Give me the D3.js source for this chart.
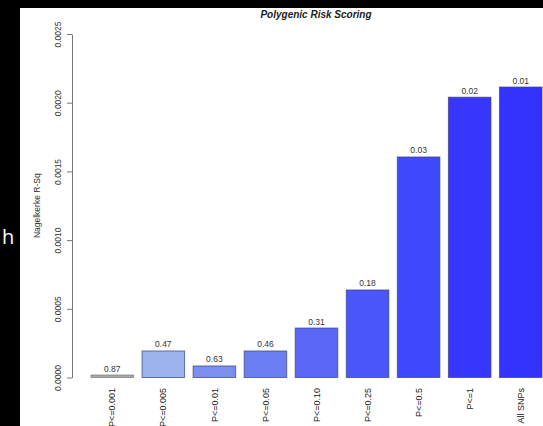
<!DOCTYPE html>
<html>
<head>
<meta charset="utf-8">
<script src="https://cdn.jsdelivr.net/npm/d3@7"></script>
<style>
  html, body { margin: 0; padding: 0; background: #000; overflow: hidden; }
  svg { display: block; }
</style>
</head>
<body>
<svg id="chart" width="543" height="426"></svg>
<script>
// P-value thresholds used to build each score
const thresholds = ["P<=0.001", "P<=0.005", "P<=0.01", "P<=0.05", "P<=0.10", "P<=0.25", "P<=0.5", "P<=1", "All SNPs"];
// Nagelkerke R-squared explained by each score
const r2Values = [0.000018, 0.000193, 0.000084, 0.000193, 0.00036, 0.000637, 0.001605, 0.00204, 0.002114];
// P-value of each score's association, printed above its bar
const pLabels = ["0.87", "0.47", "0.63", "0.46", "0.31", "0.18", "0.03", "0.02", "0.01"];
// Bar fills, darker blue for stronger association
const barColors = ["#a9a9b0", "#9bb4ee", "#7c8ef0", "#6b7ef2", "#5a67f6", "#4b56fa", "#4048fb", "#3636fd", "#3333fd"];
const yTicks = [0, 0.0005, 0.001, 0.0015, 0.002, 0.0025];

const svg = d3.select("#chart");
const font = "'Liberation Sans', Arial, Helvetica, sans-serif";

// white drawing panel on black surround
svg.append("rect").attr("x", 20).attr("y", 8).attr("width", 523).attr("height", 418).attr("fill", "#fff");

// stray caption fragment at the left edge
svg.append("text").attr("x", 2).attr("y", 244)
  .attr("fill", "#fff").attr("font-family", "'Open Sans', sans-serif").attr("font-size", 20)
  .text("h");

const x = d3.scaleBand().domain(thresholds).range([91, 542]).paddingInner(0.2 / 1.2).paddingOuter(0);
const y = d3.scaleLinear().domain([0, 0.0025]).range([377.5, 34]);

// title
svg.append("text")
  .attr("x", 316).attr("y", 18)
  .attr("text-anchor", "middle")
  .attr("font-family", font).attr("font-size", 10).attr("font-weight", "bold").attr("font-style", "italic")
  .attr("fill", "#222")
  .text("Polygenic Risk Scoring");

// y axis
const yAxis = d3.axisLeft(y).tickValues(yTicks).tickFormat(d3.format(".4f")).tickSize(5).tickSizeOuter(0);
const gy = svg.append("g").attr("transform", "translate(72,0)").call(yAxis);
gy.select(".domain").attr("stroke", "#777");
gy.selectAll(".tick line").attr("stroke", "#777");
gy.selectAll(".tick text")
  .attr("font-family", font).attr("font-size", 8.5).attr("fill", "#333")
  .attr("text-anchor", "middle")
  .attr("x", 0).attr("y", 0).attr("dy", "0.35em")
  .attr("transform", "translate(-14,0) rotate(-90)");

// y axis title
svg.append("text")
  .attr("transform", `translate(37,${(y(0) + y(0.0025)) / 2}) rotate(-90)`)
  .attr("text-anchor", "middle").attr("dy", "0.35em")
  .attr("font-family", font).attr("font-size", 8.5).attr("fill", "#333")
  .text("Nagelkerke R-Sq");

// bars
svg.append("g").selectAll("rect")
  .data(thresholds)
  .join("rect")
  .attr("x", d => x(d))
  .attr("width", x.bandwidth())
  .attr("y", (d, i) => y(r2Values[i]))
  .attr("height", (d, i) => Math.max(1.5, y(0) - y(r2Values[i])))
  .attr("fill", (d, i) => barColors[i])
  .attr("stroke", (d, i) => i === 0 ? "#777" : "#3a3f7a")
  .attr("stroke-opacity", 0.7)
  .attr("stroke-width", 1);

// p-value labels above the bars
svg.append("g").selectAll("text")
  .data(thresholds)
  .join("text")
  .attr("x", d => x(d) + x.bandwidth() / 2)
  .attr("y", (d, i) => y(r2Values[i]) - 3.5)
  .attr("text-anchor", "middle")
  .attr("font-family", font).attr("font-size", 8.5).attr("fill", "#333")
  .text((d, i) => pLabels[i]);

// category labels, rotated
const xAxis = d3.axisBottom(x).tickSize(0);
const gx = svg.append("g").attr("transform", "translate(0,388)").call(xAxis);
gx.select(".domain").remove();
gx.selectAll(".tick text")
  .attr("font-family", font).attr("font-size", 9).attr("fill", "#222")
  .attr("transform", "rotate(-90)")
  .attr("x", 0).attr("y", 0).attr("dy", "0.35em")
  .attr("text-anchor", "end");
</script>
</body>
</html>
